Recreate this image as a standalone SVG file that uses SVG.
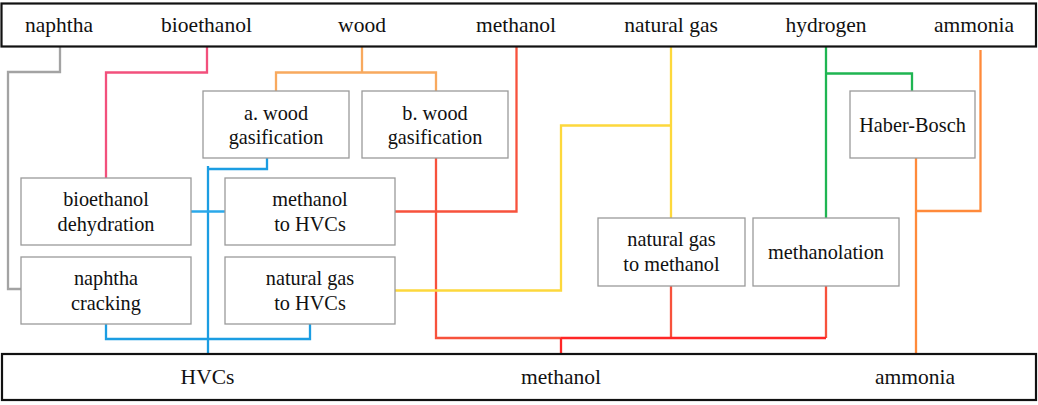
<svg xmlns="http://www.w3.org/2000/svg" width="1038" height="405" viewBox="0 0 1038 405">
<style>
.bar{fill:#fff;stroke:#111;stroke-width:2.2}
.box{fill:#fff;stroke:#9a9a9a;stroke-width:1.3}
.lbl{font-family:"Liberation Serif","Times New Roman",serif;font-size:21.5px;fill:#111;text-anchor:middle}
.nt{font-family:"Liberation Serif","Times New Roman",serif;font-size:20.3px;fill:#111;text-anchor:middle}
.c{fill:none;stroke-width:2.3;stroke-linejoin:miter}
</style>
<rect width="1038" height="405" fill="#fff"/>
<g id="connectors">
<path class="c" stroke="#a3a3a3" d="M60,47 V72 H8 V289 H21"/>
<path class="c" stroke="#f2507c" d="M207,47 V72.5 H106 V178"/>
<path class="c" stroke="#f8a95e" d="M362,47 V72.5 H276 V91 M362,72.5 H436 V91"/>
<path class="c" stroke="#1b9de2" d="M267,158 V169 H208 M208,166 V354 M106,324 V339 H310 V324"/>
<path class="c" stroke="#2aa8ea" d="M191,211.5 H225"/>
<path class="c" stroke="#f7523c" d="M516.5,47 V211.5 H395 M436,158 V338 H561 M826,286 V338 M671,286 V338"/>
<path class="c" stroke="#ff2626" d="M561,338 V354 M561,338 H826"/>
<path class="c" stroke="#fdd83c" d="M671,47 V218 M671,125.5 H561 V290.5 H395"/>
<path class="c" stroke="#1fb552" d="M826,47 V218 M826,73.5 H912 V91"/>
<path class="c" stroke="#ff8a3a" d="M980.5,50 V211 H916 M916,158 V354"/>
</g>
<g id="top-bar">
<rect class="bar" x="1.5" y="3.5" width="1034.5" height="43"/>
<text class="lbl" x="59" y="32">naphtha</text>
<text class="lbl" x="206.5" y="32">bioethanol</text>
<text class="lbl" x="362" y="32">wood</text>
<text class="lbl" x="516" y="32">methanol</text>
<text class="lbl" x="671" y="32">natural gas</text>
<text class="lbl" x="826" y="32">hydrogen</text>
<text class="lbl" x="974" y="32">ammonia</text>
</g>
<g id="bottom-bar">
<rect class="bar" x="2" y="354" width="1034" height="46"/>
<text class="lbl" x="207.5" y="384">HVCs</text>
<text class="lbl" x="561" y="384">methanol</text>
<text class="lbl" x="915" y="384">ammonia</text>
</g>
<g id="node-a-wood-gasification">
<rect class="box" x="203" y="91" width="146" height="67"/>
<text class="nt" x="276" y="120">a. wood</text>
<text class="nt" x="276" y="144">gasification</text>
</g>
<g id="node-b-wood-gasification">
<rect class="box" x="362" y="91" width="146" height="67"/>
<text class="nt" x="435" y="120">b. wood</text>
<text class="nt" x="435" y="144">gasification</text>
</g>
<g id="node-haber-bosch">
<rect class="box" x="850" y="91" width="125" height="67"/>
<text class="nt" x="912.5" y="131.5">Haber-Bosch</text>
</g>
<g id="node-bioethanol-dehydration">
<rect class="box" x="21" y="178" width="170" height="67"/>
<text class="nt" x="106" y="205.5">bioethanol</text>
<text class="nt" x="106" y="230.5">dehydration</text>
</g>
<g id="node-methanol-to-hvcs">
<rect class="box" x="225" y="178" width="170" height="67"/>
<text class="nt" x="310" y="205.5">methanol</text>
<text class="nt" x="310" y="230.5">to HVCs</text>
</g>
<g id="node-naphtha-cracking">
<rect class="box" x="21" y="257" width="170" height="67"/>
<text class="nt" x="106" y="284.5">naphtha</text>
<text class="nt" x="106" y="309.5">cracking</text>
</g>
<g id="node-natural-gas-to-hvcs">
<rect class="box" x="225" y="257" width="170" height="67"/>
<text class="nt" x="310" y="284.5">natural gas</text>
<text class="nt" x="310" y="309.5">to HVCs</text>
</g>
<g id="node-natural-gas-to-methanol">
<rect class="box" x="598" y="218" width="147" height="68"/>
<text class="nt" x="671.5" y="246">natural gas</text>
<text class="nt" x="671.5" y="271">to methanol</text>
</g>
<g id="node-methanolation">
<rect class="box" x="753" y="218" width="146" height="68"/>
<text class="nt" x="826" y="258.5">methanolation</text>
</g>
</svg>
